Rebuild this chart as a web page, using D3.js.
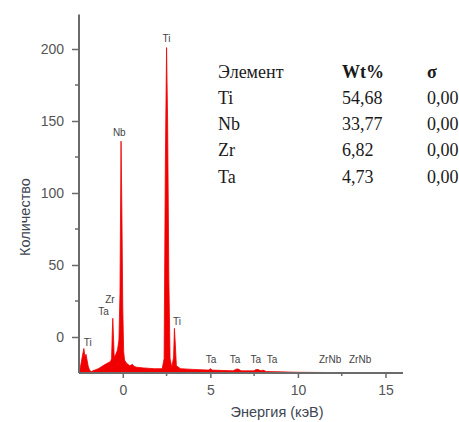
<!DOCTYPE html>
<html>
<head>
<meta charset="utf-8">
<script src="https://cdn.jsdelivr.net/npm/d3@7/dist/d3.min.js"></script>
<style>
  html, body { margin: 0; padding: 0; background: #fff; }
  svg { display: block; }
</style>
</head>
<body>
<svg id="chart" width="459" height="422"></svg>
<script>
// ---- Data ----
const energy = [-2.5, -2.42, -2.32, -2.22, -2.16, -2.1, -2.04, -1.98, -1.9, -1.8, -1.6, -1.4, -1.2, -1.0, -0.85, -0.7, -0.64, -0.6, -0.57, -0.53, -0.49, -0.4, -0.3, -0.22, -0.16, -0.1, -0.05, 0.0, 0.05, 0.1, 0.2, 0.4, 0.55, 0.65, 0.8, 1.2, 1.8, 2.25, 2.36, 2.43, 2.5, 2.56, 2.63, 2.7, 2.8, 2.9, 2.95, 3.0, 3.06, 3.3, 4.0, 4.9, 5.0, 5.1, 6.3, 6.5, 6.6, 6.75, 7.5, 7.6, 7.72, 7.9, 8.0, 8.2, 9.0, 10.0, 12.0, 14.0];
const counts = [-25, -21, -14, -8, -14, -12, -16, -20, -23, -24, -23, -22, -20.5, -19, -18, -17, -15, 3, 13, 0, -14, -12, -9, -2, 30, 136, 85, 20, -10, -16, -18, -20, -19, -20.5, -21, -21.5, -22, -22, -15, 120, 201, 150, 40, -15, -21, -14, 6, -5, -20, -22, -22.5, -23, -22, -23, -23.5, -22.3, -22.3, -23.5, -23.5, -22.6, -22.6, -23.5, -23, -24, -24.2, -24.5, -24.7, -24.8];

const xTicks = [0, 5, 10, 15];
const xMinorTicks = [2.5, 7.5, 12.5];
const yTicks = [0, 50, 100, 150, 200];
const yMinorTicks = [25, 75, 125, 175];

const peakNames   = ["Ti", "Nb", "Ti", "Zr", "Ta", "Ti", "Ta", "Ta", "Ta", "Ta", "ZrNb", "ZrNb"];
const peakEnergy  = [2.5, -0.2, 3.1, -0.73, -1.1, -2.0, 5.04, 6.41, 7.6, 8.52, 11.84, 13.55];
const peakLabelAt = [205, 139.6, 8.3, 23.6, 15.3, -6.5, -18, -18, -18, -18, -18, -18];

const tableHeader = ["Элемент", "Wt%", "σ"];
const elements = ["Ti", "Nb", "Zr", "Ta"];
const wtPct = ["54,68", "33,77", "6,82", "4,73"];
const sigma = ["0,00", "0,00", "0,00", "0,00"];

const xLabel = "Энергия (кэВ)";
const yLabel = "Количество";

// ---- Chart ----
const svg = d3.select("#chart");
svg.append("rect").attr("width", 459).attr("height", 422).attr("fill", "#fff");

const x = d3.scaleLinear().domain([-2.5, 16]).range([79, 403]);
const y = d3.scaleLinear().domain([-25, 225]).range([373, 13]);

const axisColor = "#6b6b6b";
const tickTextColor = "#555";

// spectrum
const pts = energy.map((e, i) => [e, counts[i]]);
const area = d3.area().x(d => x(d[0])).y0(y(-25)).y1(d => y(d[1]));
svg.append("path").datum(pts).attr("d", area).attr("fill", "#f00000").attr("stroke", "#f00000").attr("stroke-width", 0.8);

// x axis
const gx = svg.append("g").attr("transform", `translate(0,${y(-25)})`);
gx.call(d3.axisBottom(x).tickValues(xTicks).tickSize(5).tickPadding(7).tickFormat(d3.format("d")));
gx.select(".domain").attr("stroke", axisColor).attr("stroke-width", 2).attr("d", `M${x(-2.5)},0H${x(16)}`);
gx.selectAll(".tick line").attr("stroke", axisColor).attr("stroke-width", 1.5);
gx.selectAll(".tick text").attr("fill", tickTextColor).attr("font-family", "Arial, 'Liberation Sans', sans-serif").attr("font-size", 14);
gx.selectAll(".minor").data(xMinorTicks).enter().append("line")
  .attr("x1", d => x(d)).attr("x2", d => x(d)).attr("y1", 0).attr("y2", 3)
  .attr("stroke", axisColor).attr("stroke-width", 1.5);

// y axis
const gy = svg.append("g").attr("transform", `translate(${x(-2.5)},0)`);
gy.call(d3.axisLeft(y).tickValues(yTicks).tickSize(7).tickPadding(8));
gy.select(".domain").attr("stroke", axisColor).attr("stroke-width", 2).attr("d", `M0,${y(-25)}V${y(224)}`);
gy.selectAll(".tick line").attr("stroke", axisColor).attr("stroke-width", 1.5);
gy.selectAll(".tick text").attr("fill", tickTextColor).attr("font-family", "Arial, 'Liberation Sans', sans-serif").attr("font-size", 14);
gy.selectAll(".minor").data(yMinorTicks).enter().append("line")
  .attr("x1", -4).attr("x2", 0).attr("y1", d => y(d)).attr("y2", d => y(d))
  .attr("stroke", axisColor).attr("stroke-width", 1.5);

// axis titles
svg.append("text").attr("x", 277).attr("y", 417).attr("text-anchor", "middle")
  .attr("font-family", "Arial, 'Liberation Sans', sans-serif").attr("font-size", 14.5)
  .attr("fill", "#3e4652").text(xLabel);
svg.append("text").attr("transform", "translate(30,217) rotate(-90)").attr("text-anchor", "middle")
  .attr("font-family", "Arial, 'Liberation Sans', sans-serif").attr("font-size", 14.5)
  .attr("fill", "#3e4652").text(yLabel);

// peak labels
svg.append("g").selectAll("text").data(peakNames).enter().append("text")
  .attr("x", (d, i) => x(peakEnergy[i])).attr("y", (d, i) => y(peakLabelAt[i]))
  .attr("text-anchor", "middle")
  .attr("font-family", "Arial, 'Liberation Sans', sans-serif").attr("font-size", 10)
  .attr("fill", "#444").text(d => d);

// table
const serif = "'Times New Roman', 'Liberation Serif', serif";
const colX = [218, 342, 427];
const rowY = [78, 104, 130, 156, 183];
const tbl = svg.append("g").attr("font-family", serif).attr("font-size", 18).attr("fill", "#1a1a1a");
tableHeader.forEach((h, j) => {
  tbl.append("text").attr("x", colX[j]).attr("y", rowY[0])
    .attr("font-weight", j === 0 ? "normal" : "bold").text(h);
});
elements.forEach((el, i) => {
  const row = [el, wtPct[i], sigma[i]];
  row.forEach((v, j) => {
    tbl.append("text").attr("x", colX[j]).attr("y", rowY[i + 1]).text(v);
  });
});
</script>
</body>
</html>
